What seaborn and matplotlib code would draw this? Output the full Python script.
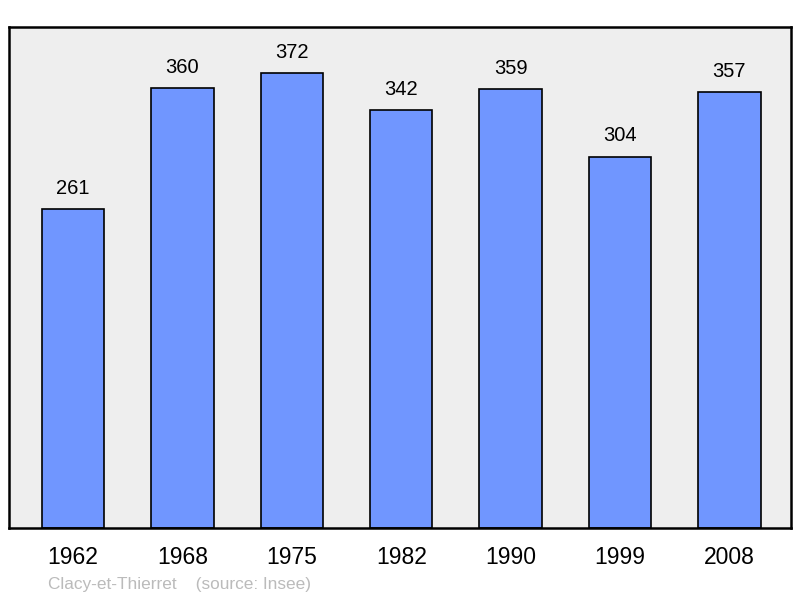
import matplotlib
matplotlib.use("Agg")
import matplotlib.pyplot as plt
import pandas as pd
import seaborn as sns

# Population of Clacy-et-Thierret by census year
YEARS = ["1962", "1968", "1975", "1982", "1990", "1999", "2008"]
POPULATION = [261, 360, 372, 342, 359, 304, 357]

BAR_COLOR = "#7096FF"
BG_COLOR = "#EEEEEE"

df = pd.DataFrame({"year": YEARS, "population": POPULATION})

sns.set_theme(style="white")
plt.rcParams["font.family"] = ["Liberation Sans", "DejaVu Sans"]

fig = plt.figure(figsize=(8, 5.98), dpi=100)
ax = fig.add_axes([0.01125, 0.117, 0.9775, 0.8378])
ax.set_facecolor(BG_COLOR)

sns.barplot(data=df, x="year", y="population", color=BAR_COLOR,
            width=0.57, edgecolor="black", linewidth=1.2, saturation=1, ax=ax)

for p, v in zip(ax.patches, POPULATION):
    ax.annotate(f"{v}", (p.get_x() + p.get_width() / 2, p.get_height()),
                xytext=(0, 8), textcoords="offset points",
                ha="center", va="bottom", fontsize=14.5, color="black")

ax.set_ylim(0, 410)
ax.set_xlim(-0.585, 6.563)
ax.set_yticks([])
ax.set_xlabel("")
ax.set_ylabel("")
ax.tick_params(axis="x", length=0, labelsize=16.5, pad=13, colors="black")
for s in ax.spines.values():
    s.set_visible(True)
    s.set_color("black")
    s.set_linewidth(1.8)

fig.text(0.06, 0.022, "Clacy-et-Thierret    (source: Insee)",
         fontsize=12.4, color="#BBBBBB", ha="left", va="center")

fig.savefig("out.png", dpi=100, facecolor="white")
